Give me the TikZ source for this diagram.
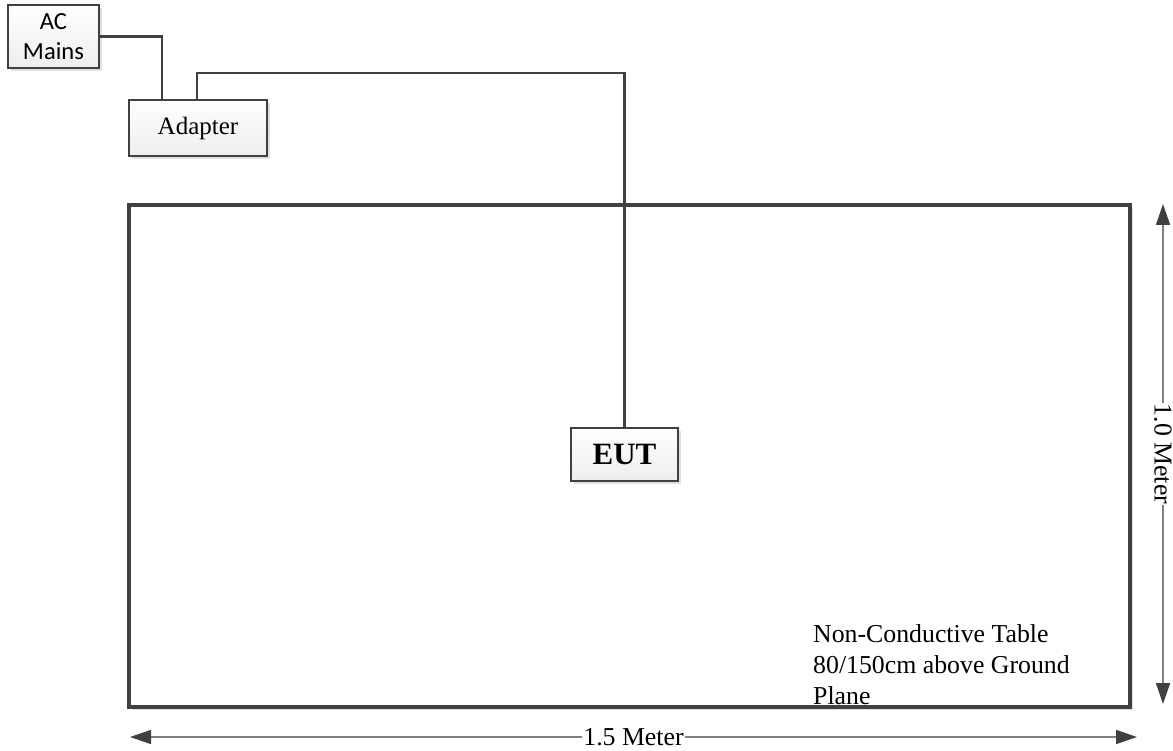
\documentclass[tikz,border=0pt]{standalone}
\usepackage{fontspec}
\setmainfont{Liberation Serif}
\newfontfamily\calib{Carlito}
\usetikzlibrary{arrows.meta,shadows,calc}
\definecolor{edge}{HTML}{404040}
\definecolor{dimline}{HTML}{808080}
\tikzset{
  boxstyle/.style={draw=edge, line width=2.2pt, top color=white, bottom color=black!7,
    drop shadow={shadow xshift=3pt, shadow yshift=-3pt, fill=black!12, opacity=1},
    inner sep=0pt, align=center},
  wire/.style={draw=edge, line width=2.4pt},
  dimarrow/.style={draw=dimline, line width=1.6pt,
    {Triangle[length=21pt,width=14pt,color=edge]}-{Triangle[length=21pt,width=14pt,color=edge]}},
  dimlabel/.style={fill=white, inner sep=1pt, font=\fontsize{25.8}{30}\selectfont}
}
\begin{document}
\begin{tikzpicture}[x=1pt,y=-1pt]
\useasboundingbox (0,0) rectangle (1173,751);
% table
\node[draw=edge, line width=3.2pt, fill=white,
  drop shadow={shadow xshift=3pt, shadow yshift=-3pt, fill=black!12, opacity=1},
  minimum width=1001pt, minimum height=502pt, inner sep=0pt] (table) at (629.5,456) {};
\node[anchor=west, align=left, inner sep=0pt, font=\fontsize{25.8}{31}\selectfont] (note) at (813,665)
  {Non-Conductive Table\\80/150cm above Ground\\Plane};
% boxes
\node[boxstyle, minimum width=91pt, minimum height=63pt, font=\calib\fontsize{24.6}{30}\selectfont] (ac) at (53.5,36.5) {AC\\Mains};
\node[boxstyle, minimum width=138pt, minimum height=56pt, font=\fontsize{25}{30}\selectfont] (adapter) at (198,128) {Adapter};
\node[boxstyle, minimum width=107pt, minimum height=53pt, font=\bfseries\fontsize{31}{36}\selectfont] (eut) at (624.5,454.5) {EUT};
% wiring
\draw[wire] (ac.east) -| ([xshift=34pt]adapter.north west);
\coordinate (bend) at (624.5,73);
\draw[wire] ([xshift=69pt]adapter.north west) |- (bend) -- (eut.north);
% dimensions
\coordinate (hl) at (130,737);
\coordinate (hr) at (1137,737);
\draw[dimarrow] (hl) -- node[dimlabel] (hlab) {1.5 Meter} (hr);
\coordinate (vt) at (1163,204);
\coordinate (vb) at (1163,704);
\draw[dimarrow] (vt) -- node[dimlabel, rotate=-90] (vlab) {1.0 Meter} (vb);
\end{tikzpicture}
\end{document}
